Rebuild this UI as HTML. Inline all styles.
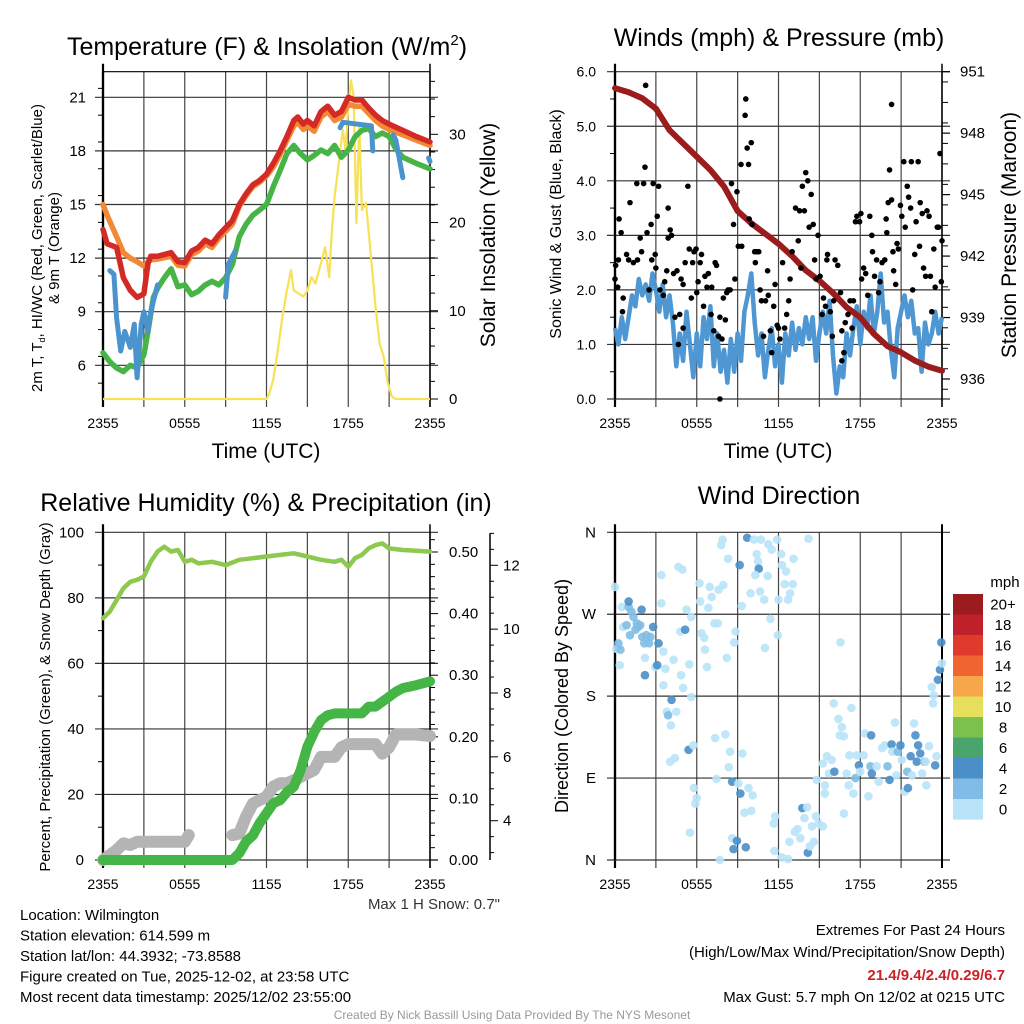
<!DOCTYPE html>
<html><head><meta charset="utf-8"><style>
html,body{margin:0;padding:0;background:#fff;}
svg{display:block;font-family:"Liberation Sans",sans-serif;}
</style></head><body>
<svg id="c" width="1024" height="1024" viewBox="0 0 1024 1024"></svg>
<script>
// ---------------- DATA ----------------
var timeLabels = ["2355","0555","1155","1755","2355"];
// Temperature panel (hours since 2355)
var tempT   = [0,0.3,1,1.5,2,2.5,3,3.3,3.5,4,5,5.5,6,6.5,7,7.5,8,8.5,9,9.5,10,10.5,11,11.5,12,12.5,13,13.5,14,14.3,14.7,15,15.5,16,16.5,17,17.5,18,18.5,19,19.5,20,20.5,21,22,23,24];
var temp2m  = [13.6,12.8,12.6,10.9,10.2,9.8,10.0,11.7,12.1,12.1,12.3,11.8,11.75,12.4,12.6,13.0,12.8,13.3,13.7,14.1,15.0,15.6,16.1,16.35,16.7,17.3,18.0,18.8,19.7,19.9,19.5,19.7,19.4,20.2,20.5,20.0,20.2,21.0,20.85,20.85,20.4,20.0,19.7,19.5,19.15,18.8,18.5];
var temp9m  = [15.0,14.4,13.2,12.3,12.0,11.8,11.55,11.8,11.9,11.95,12.1,11.6,11.55,12.2,12.4,12.8,12.6,13.1,13.5,13.9,14.9,15.5,16.0,16.25,16.6,17.1,17.8,18.6,19.4,19.6,19.2,19.4,19.1,19.9,20.2,19.7,19.9,20.6,20.5,20.5,20.1,19.7,19.4,19.2,18.9,18.6,18.3];
var dewT    = [0,0.5,1,1.5,2,2.5,3,3.3,3.7,4,4.5,5,5.5,6,6.5,7,7.5,8,8.5,9,9.5,10,10.5,11,11.5,12,12.5,13,13.5,14,14.5,15,15.5,16,16.5,17,17.5,18,18.5,19,19.5,20,20.5,21,21.5,22,23,24];
var dewPt   = [6.7,6.2,5.85,5.65,6.0,5.85,6.6,7.9,9.8,10.3,10.9,11.4,10.4,10.5,9.95,10.15,10.5,10.7,10.5,10.9,11.65,13.2,13.9,14.4,14.7,15.0,16.0,16.9,17.85,18.3,17.85,17.5,17.75,18.05,17.85,18.3,17.65,18.05,18.8,19.15,19.25,18.8,19.0,18.8,18.1,17.65,17.3,17.0];
var hiwcT   = [0.5,0.8,1,1.3,1.6,2,2.3,2.5,2.8,3,3.3,3.5,4,4.1,9,9.2,9.7,9.8,17.4,17.6,19.7,19.8,19.9,21.3,21.5,22,22.1,23.9,24];
var hiwc    = [11.3,11.1,8.65,6.8,7.9,7.0,8.3,5.3,8.3,9.0,7.9,9.0,10.5,null,9.8,11.65,12.4,null,19.3,19.6,19.4,18.0,null,18.9,18.6,16.5,null,17.6,17.4];
var solT    = [0,12,12.2,12.5,12.8,13.2,13.5,13.8,14,14.3,14.7,15,15.3,15.6,16,16.3,16.6,16.8,17,17.3,17.6,17.8,18,18.2,18.4,18.6,18.8,19,19.3,19.6,20,20.3,20.6,20.9,21.2,21.5,24];
var solar   = [0,0,0.6,2.2,5.2,9.7,12.3,14.6,12.3,12.0,11.6,12.3,13.8,13.1,15.4,17.2,13.8,19.1,22.9,26.7,30.5,28.2,33.1,36.1,34.2,19.9,31.3,21.4,22.2,17.2,10.5,6.3,4.8,1.8,0.3,0,0];
var tempTicks  = [6,9,12,15,18,21];
var solarTicks = [0,10,20,30];
// Winds panel
var windSpeed = [1.3,1.0,1.5,1.1,1.5,1.9,1.7,2.2,1.9,2.1,1.8,2.3,2.0,
 1.6,2.1,1.5,1.9,1.4,0.6,1.2,0.7,1.6,1.0,0.4,1.2,0.6,
 1.5,1.1,1.7,0.6,1.2,0.5,0.9,0.3,1.1,0.5,1.2,0.7,1.6,
 1.9,2.3,1.4,0.8,1.2,0.4,0.9,1.3,0.6,1.0,0.3,1.2,0.8,
 1.4,0.9,1.3,1.0,1.5,1.1,1.5,0.7,1.2,1.6,1.2,1.8,0.8,
 0.1,0.6,0.4,1.2,0.8,1.3,1.7,1.0,1.6,1.3,1.9,1.2,1.6,
 2.3,1.4,1.6,0.9,0.4,1.3,1.6,1.9,1.5,1.8,1.2,1.3,0.5,
 1.4,1.0,1.2,1.6,1.2,1.5];
var gustT = [0,0.05,0.2,0.3,0.45,0.25,0.6,0.55,0.85,1.1,1.0,1.35,1.6,1.65,1.85,1.95,2.1,2.2,2.25,2.35,2.5,2.65,2.7,2.8,2.95,3.0,3.1,3.2,3.3,3.55,3.65,3.8,3.9,3.9,4.05,4.15,4.3,4.4,4.55,4.65,4.75,4.85,5.0,5.0,5.15,5.35,5.45,5.6,5.7,5.8,5.95,6.0,6.1,6.25,6.35,6.5,6.6,6.75,6.85,7.05,7.1,7.25,7.35,7.45,7.6,7.7,7.85,7.7,7.95,8.1,8.2,8.3,8.45,8.55,8.7,8.8,8.95,9.05,9.25,9.3,9.55,9.6,9.7,9.8,10.0,9.85,10.05,10.25,10.3,10.4,10.55,10.65,10.75,10.9,11.05,11.2,11.25,11.4,11.5,11.65,11.75,11.9,12.0,12.1,12.3,12.45,12.6,12.75,12.85,13.0,13.25,13.45,13.55,13.65,13.75,13.9,14.0,14.15,14.25,14.4,14.55,14.65,14.75,14.9,15.05,15.2,15.3,15.45,15.55,15.6,15.8,15.95,16.05,16.15,16.35,16.55,16.65,16.65,16.8,16.9,17.1,17.25,17.4,17.5,17.65,17.75,17.95,18.05,18.1,18.25,18.4,18.55,18.7,18.85,18.9,19.05,19.2,19.35,19.45,19.6,19.8,19.9,19.95,20.05,20.15,20.3,20.4,20.45,20.6,20.7,20.8,20.95,21.05,21.2,21.3,21.45,21.55,21.7,21.75,21.85,22.0,22.1,22.25,22.35,22.4,22.55,22.65,22.8,22.9,23.05,23.15,23.25,23.4,23.5,23.65,23.75,23.85,23.95,24.0,20.3];
var gust  = [2.2,2.45,2.05,3.3,3.05,2.55,1.85,1.6,2.65,3.6,2.55,2.5,3.95,2.55,2.95,2.7,3.95,4.25,5.75,3.05,2.0,3.2,2.55,3.95,2.65,2.4,3.35,3.9,2.0,1.9,2.15,2.35,3.5,2.95,3.1,3.0,2.3,1.5,2.35,1.0,1.55,2.2,2.1,1.3,2.5,3.9,2.75,1.85,2.5,2.7,2.75,1.95,2.15,2.5,2.65,1.7,2.25,2.05,2.3,1.55,2.05,1.25,2.5,2.45,1.15,1.5,1.1,0.0,1.85,1.45,1.95,2.0,2.0,3.95,3.2,2.2,3.8,2.8,4.3,2.8,5.2,5.5,4.6,4.3,4.7,3.3,3.2,2.7,2.5,2.7,2.7,2.0,1.8,1.15,1.8,2.35,1.9,1.25,0.85,1.7,2.1,1.35,1.3,1.1,2.5,1.3,1.55,1.8,2.2,2.7,3.5,2.9,3.45,2.4,3.9,3.45,4.15,4.0,3.15,3.75,3.2,2.55,2.2,3.0,2.25,1.55,1.85,1.7,2.55,2.65,1.6,1.15,1.8,2.55,2.45,1.95,1.25,0.7,0.85,1.4,1.55,1.8,1.3,1.8,3.25,3.35,3.25,3.4,2.2,2.4,2.3,1.9,3.35,3.0,2.7,2.25,2.55,1.95,2.15,2.5,2.55,3.3,3.05,3.6,4.2,3.65,2.7,2.35,2.1,2.85,2.75,3.55,3.35,4.35,3.15,3.9,3.7,3.5,4.35,2.0,2.65,3.25,4.35,2.8,3.6,3.4,2.4,2.25,3.45,3.35,2.25,1.6,2.75,2.05,3.15,3.15,4.5,2.15,2.9,5.4];
var presT = [0,1,2,3,4,5,6,7,8,9,10,11,12,13,14,15,16,17,18,19,20,21,22,23,24];
var pres  = [950.2,950.0,949.7,949.2,948.15,947.5,946.85,946.2,945.4,944.2,943.6,943.1,942.6,942.0,941.3,940.8,940.2,939.5,939.0,938.2,937.6,937.3,936.9,936.6,936.4];
var windTicks = [0,1,2,3,4,5,6];
var presTicks = [936,939,942,945,948,951];
// RH / precip / snow panel
var rhT = [0,0.5,1,1.5,2,2.5,3,3.5,4,4.5,5,5.5,6,6.5,7,8,9,10,11,12,13,14,15,16,17,17.5,18,18.5,19,19.5,20,20.5,21,22,23,24];
var rh  = [73.8,75.8,79.3,82.9,84.9,85.5,86.5,91,94.1,95.6,94.1,94.6,91,91.6,90.5,91,90,91.6,92.1,92.6,93.1,93.6,92.6,91.6,91,91.6,89.5,92.1,93.1,95.1,96.1,96.6,95.1,94.6,94.4,94.1];
var precT = [0,9.5,10,10.5,11,11.5,12,12.5,13,13.5,14,14.5,15,15.5,16,16.5,17,18,19,19.5,20,20.5,21,21.5,22,23,24];
var prec  = [0,0,0.011,0.03,0.04,0.06,0.076,0.092,0.097,0.11,0.119,0.146,0.184,0.208,0.227,0.235,0.238,0.238,0.238,0.249,0.249,0.257,0.265,0.273,0.279,0.284,0.29];
var snowT = [0,1,1.5,2,2.5,3,6,6.3,6.5,9.5,10,10.5,11,11.5,12,12.5,13,13.5,14,15,15.5,16,17,17.5,18,19,20,20.5,21,21.5,22,23,24];
var snow  = [2.77,3.08,3.29,3.24,3.34,3.34,3.34,3.55,null,3.55,3.6,4.13,4.54,4.65,4.75,5.07,5.17,5.17,5.27,5.48,5.59,6.0,6.0,6.3,6.4,6.4,6.4,6.1,6.3,6.7,6.7,6.7,6.65];
var rhTicks   = [0,20,40,60,80,100];
var precTicks = [0.00,0.10,0.20,0.30,0.40,0.50];
var snowTicks = [4,6,8,10,12];
// Wind direction scatter
var dirT = [0,0.1,0.25,0.4,0.5,0.35,0.6,0.85,1.0,1.0,1.1,1.2,1.35,1.5,1.6,1.7,1.85,1.95,2.0,2.15,2.2,2.2,2.3,2.5,2.6,2.8,2.95,3.1,3.2,3.4,3.4,3.55,3.7,4.3,3.55,3.8,3.9,4.15,4.5,4.1,4.65,4.95,4.8,5.15,5.25,4.85,5.0,5.45,5.6,5.6,6.2,6.25,6.35,6.55,6.6,6.75,6.85,6.95,7.1,7.3,7.55,7.6,7.8,7.9,7.95,8.3,8.2,8.85,8.75,9.3,9.15,9.7,10.2,10.7,10.4,10.5,10.55,10.3,9.95,10.65,10.95,11.0,11.2,11.25,11.4,11.5,11.9,12.0,11.95,12.2,12.25,12.45,12.55,12.7,12.85,13.05,13.1,14.2,16.55,
 4.05,4.4,5.4,5.75,5.8,6.0,5.9,5.5,7.35,8.1,7.45,8.35,8.45,8.6,9.05,9.2,9.35,9.8,10.1,9.5,10.0,8.6,8.95,8.7,9.6,7.7,11.75,11.65,11.7,12.25,12.7,12.8,13.2,13.4,13.6,13.75,13.9,14.1,14.15,14.3,14.6,14.45,14.75,14.95,15.25,14.8,15.4,15.4,15.25,15.55,15.7,15.9,16.1,16.05,16.4,16.65,16.5,16.8,16.8,17.0,17.2,17.35,17.15,17.5,17.65,17.75,17.9,18.0,18.25,18.35,18.6,18.75,18.8,18.85,19.2,19.35,19.6,19.8,20.0,20.15,20.3,20.35,20.55,20.65,20.75,20.95,21.05,21.25,21.45,21.5,21.7,21.8,21.95,22.05,22.15,22.25,22.4,22.55,22.7,22.8,22.85,23.05,23.25,23.35,23.4,23.5,23.6,23.7,23.85,23.95,24.0];
var dirDeg = [300,232,238,231,278,214,256,258,278,284,247,273,267,253,260,256,258,275,245,238,203,222,247,238,245,256,212,214,238,313,282,229,210,220,192,163,159,176,163,148,322,319,251,253,275,203,189,215,267,179,304,284,249,244,231,212,277,300,289,260,260,297,346,352,302,331,222,251,239,279,324,354,352,352,336,328,320,313,293,295,286,233,312,347,265,341,352,286,247,336,324,303,317,286,293,303,331,353,239,
 108,112,121,126,79,68,62,30,134,138,89,102,119,86,84,73,117,79,71,52,54,24,21,12,14,0,48,40,10,3,1,20,31,34,24,57,46,58,8,15,20,37,48,40,37,88,73,82,106,114,95,110,97,172,155,146,137,136,51,95,115,167,82,73,90,115,104,97,115,139,70,103,137,95,103,86,123,126,103,88,127,119,151,93,119,126,110,75,97,79,114,93,150,137,108,126,117,95,108,108,82,125,190,172,181,104,114,198,209,239,216];
var dirSpd = [1,1,3,3,1,1,1,3,3,4,3,3,3,3,3,3,3,4,3,3,4,1,3,3,3,4,1,4,4,1,1,1,1,1,1,1,3,4,1,1,1,1,1,4,1,1,1,1,1,1,1,1,1,1,1,1,1,1,1,1,1,1,1,1,1,1,1,1,1,1,4,4,1,1,1,1,4,1,1,1,1,1,1,1,1,1,1,1,1,1,1,1,1,1,1,1,1,1,1,
 1,1,4,1,1,1,1,1,1,1,1,1,1,4,1,4,1,1,1,1,1,1,4,4,4,1,1,1,1,1,1,1,1,1,1,4,1,1,4,1,1,1,1,1,1,1,1,1,1,1,1,1,4,1,1,1,1,1,1,1,1,1,1,1,3,1,4,1,1,1,1,3,4,4,1,1,1,1,3,4,4,1,1,1,3,4,1,1,3,4,4,1,1,4,4,4,4,1,3,1,1,1,1,1,1,4,1,4,4,4,1];
var dirTicks = ["N","E","S","W","N"];
var cbLabels = ["20+","18","16","14","12","10","8","6","4","2","0"];
var cbColors = ["#9b1b1e","#c0202a","#df3a2c","#ef6430","#f6a74a","#e6df5c","#7cc14c","#4aa56c","#4a8fc8","#80bce6","#b9e3f8"];

// ---------------- DRAWING ----------------
var svg = document.getElementById('c');
var NS = 'http://www.w3.org/2000/svg';
function mk(tag, attrs, parent){var e=document.createElementNS(NS,tag);for(var k in attrs)e.setAttribute(k,attrs[k]);(parent||svg).appendChild(e);return e;}
function txt(s, x, y, size, anchor, parent, extra){var e=mk('text',{x:x,y:y,'font-size':size,'text-anchor':anchor||'middle',fill:'#000'},parent);if(extra)for(var k in extra)e.setAttribute(k,extra[k]);e.textContent=s;return e;}
function lin(a,b){return function(v){return a[1]+(v-a[0])*(b[1]-a[1])/(b[0]-a[0]);};}
function pathD(xs, ys, fx, fy){var d='',pen=false;for(var i=0;i<xs.length;i++){if(ys[i]===null||ys[i]===undefined){pen=false;continue;}d+=(pen?'L':'M')+fx(xs[i]).toFixed(1)+' '+fy(ys[i]).toFixed(1);pen=true;}return d;}

function panelFrame(g, ox, top, bot, hTicks, fy, showTopLine){
  var L=ox+103,R=ox+430;
  var fx=lin([0,L],[24,R]);
  for(var k=0;k<=8;k++){var x=fx(k*3);mk('line',{x1:x,y1:top,x2:x,y2:bot+8,stroke:(k==0||k==8)?'#000':'#444','stroke-width':(k==0)?2.2:1.2},g);}
  hTicks.forEach(function(v){var y=fy(v);mk('line',{x1:L-8,y1:y,x2:R+8,y2:y,stroke:'#333','stroke-width':1.2},g);});
  if(showTopLine) mk('line',{x1:L,y1:top,x2:R,y2:top,stroke:'#000','stroke-width':1.2},g);
  mk('line',{x1:L,y1:top-8,x2:L,y2:bot,stroke:'#000','stroke-width':2.2},g);
  for(var i=0;i<timeLabels.length;i++){txt(timeLabels[i],fx(i*6),bot+29,14,'middle',g);}
  return fx;
}

// ===== Panel 1: Temperature =====
(function(){
  var g=mk('g',{});
  
  
  var top=71.7,bot=399;
  var fy=lin([21,97.3],[6,365.3]);
  var fs=lin([0,399],[30,134.3]);
  var fx=panelFrame(g,0,top,bot,tempTicks,fy,true);
  for(var v=5;v<=22;v+=1.5){mk('line',{x1:98,y1:fy(v),x2:103,y2:fy(v),stroke:'#000','stroke-width':1},g);}
  tempTicks.forEach(function(v){txt(String(v),86,fy(v)+5,15,'end',g);});
  mk('line',{x1:430,y1:top-8,x2:430,y2:bot+8,stroke:'#000','stroke-width':1.5},g);
  for(var s=0;s<=36;s+=2){var y=fs(s);mk('line',{x1:430,y1:y,x2:(s%10==0)?438:435,y2:y,stroke:'#000','stroke-width':1},g);}
  solarTicks.forEach(function(v){txt(String(v),449,fs(v)+5,15,'start',g);});
  var s1=mk('path',{d:pathD(solT,solar,fx,fs),fill:'none',stroke:'#f7e154','stroke-width':2.2,'stroke-linejoin':'round'},g);
  
  var s2=mk('path',{d:pathD(tempT,temp9m,fx,fy),fill:'none',stroke:'#f28a35','stroke-width':5.5,'stroke-linejoin':'round','stroke-linecap':'round'},g);
  
  var s3=mk('path',{d:pathD(tempT,temp2m,fx,fy),fill:'none',stroke:'#d42a26','stroke-width':5.5,'stroke-linejoin':'round','stroke-linecap':'round'},g);
  
  var s4=mk('path',{d:pathD(dewT,dewPt,fx,fy),fill:'none',stroke:'#47b447','stroke-width':5.5,'stroke-linejoin':'round','stroke-linecap':'round'},g);
  
  var s5=mk('path',{d:pathD(hiwcT,hiwc,fx,fy),fill:'none',stroke:'#4a93cc','stroke-width':5,'stroke-linejoin':'round','stroke-linecap':'round'},g);
  
  var t=txt('',267,55,25,'middle',g);
  t.innerHTML='Temperature (F) &amp; Insolation (W/m<tspan dy="-10" font-size="15">2</tspan><tspan dy="10">)</tspan>';
  txt('Time (UTC)',266,458,21,'middle',g);
  var yl=txt('',0,0,15,'middle',g,{transform:'translate(42,248) rotate(-90)'});
  
  yl.innerHTML='2m T, T<tspan font-size="9" dy="3">d</tspan><tspan dy="-3">, HI/WC (Red, Green, Scarlet/Blue)</tspan>';
  txt('& 9m T (Orange)',0,0,15,'middle',g,{transform:'translate(59,248) rotate(-90)'});
  txt('Solar Insolation (Yellow)',0,0,21,'middle',g,{transform:'translate(495,235) rotate(-90)'});
})();

// ===== Panel 2: Winds & Pressure =====
(function(){
  var g=mk('g',{});
  
  
  var ox=512,top=71.7,bot=399;
  var fy=lin([0,399],[6,71.7]);
  var fp=lin([951,71.7],[936,379]);
  var fx=panelFrame(g,ox,top,bot,windTicks,fy,false);
  for(var v=0.5;v<6;v+=1){mk('line',{x1:ox+98,y1:fy(v),x2:ox+103,y2:fy(v),stroke:'#000','stroke-width':1},g);}
  windTicks.forEach(function(v){txt(v.toFixed(1),ox+84,fy(v)+5,14,'end',g);});
  mk('line',{x1:ox+430,y1:top-8,x2:ox+430,y2:bot+8,stroke:'#000','stroke-width':1.5},g);
  for(var p=935.5;p<=951;p+=1){var y=fp(p);if(y>bot)continue;mk('line',{x1:ox+430,y1:y,x2:ox+436,y2:y,stroke:'#000','stroke-width':1},g);}
  presTicks.forEach(function(v){var y=fp(v);mk('line',{x1:ox+430,y1:y,x2:ox+438,y2:y,stroke:'#000','stroke-width':1.2},g);txt(String(v),ox+448,y+5,15,'start',g);});
  var w=mk('path',{d:pathD(windSpeed.map(function(_,i){return i*0.25;}),windSpeed,fx,fy),fill:'none',stroke:'#4f97d2','stroke-width':4.5,'stroke-linejoin':'round'},g);
  
  var pr=mk('path',{d:pathD(presT,pres,fx,fp),fill:'none',stroke:'#9b1c1c','stroke-width':6,'stroke-linejoin':'round','stroke-linecap':'round'},g);
  
  for(var i=0;i<gustT.length;i++){
    var c=mk('circle',{cx:fx(gustT[i]),cy:fy(gust[i]),r:2.8,fill:'#000'},g);
    
    
  }
  txt('Winds (mph) & Pressure (mb)',779,46,25,'middle',g);
  txt('Time (UTC)',778,458,21,'middle',g);
  txt('Sonic Wind & Gust (Blue, Black)',0,0,16,'middle',g,{transform:'translate(561,224) rotate(-90)'});
  txt('Station Pressure (Maroon)',0,0,21,'middle',g,{transform:'translate(1016,235) rotate(-90)'});
})();

// ===== Panel 3: RH & Precip =====
(function(){
  var g=mk('g',{});
  
  
  var top=532.3,bot=860;
  var fy=lin([0,860],[100,532.3]);
  var fpr=lin([0,860],[0.5,552]);
  var fsn=lin([4,820.7],[12,565.3]);
  var fx=panelFrame(g,0,top,bot,rhTicks,fy,false);
  for(var v=10;v<100;v+=20){mk('line',{x1:98,y1:fy(v),x2:103,y2:fy(v),stroke:'#000','stroke-width':1},g);}
  rhTicks.forEach(function(v){txt(String(v),84,fy(v)+5,15,'end',g);});
  mk('line',{x1:430,y1:top-8,x2:430,y2:bot+8,stroke:'#000','stroke-width':1.5},g);
  for(var k=0;k<=26;k++){var y=fpr(k*0.02);if(y<top-6)continue;mk('line',{x1:430,y1:y,x2:(k%5==0)?438:435,y2:y,stroke:'#000','stroke-width':1},g);}
  precTicks.forEach(function(v){txt(v.toFixed(2),449,fpr(v)+5,15,'start',g);});
  mk('line',{x1:490,y1:top+1,x2:490,y2:bot,stroke:'#000','stroke-width':1.5},g);
  for(var s=3;s<=13;s+=0.5){var y=fsn(s);if(y<top||y>bot)continue;mk('line',{x1:490,y1:y,x2:(s%2==0)?498:494,y2:y,stroke:'#000','stroke-width':1},g);}
  snowTicks.forEach(function(v){txt(String(v),503,fsn(v)+5,15,'start',g);});
  var sn=mk('path',{d:pathD(snowT,snow,fx,fsn),fill:'none',stroke:'#b4b4b4','stroke-width':12,'stroke-linejoin':'round','stroke-linecap':'round'},g);
  
  var pc=mk('path',{d:pathD(precT,prec,fx,fpr),fill:'none',stroke:'#45b545','stroke-width':10,'stroke-linejoin':'round','stroke-linecap':'round'},g);
  
  var r=mk('path',{d:pathD(rhT,rh,fx,fy),fill:'none',stroke:'#8dc94f','stroke-width':4.5,'stroke-linejoin':'round','stroke-linecap':'round'},g);
  
  txt('Relative Humidity (%) & Precipitation (in)',266,511,25,'middle',g);
  txt('Percent, Precipitation (Green), & Snow Depth (Gray)',0,0,15,'middle',g,{transform:'translate(50,697) rotate(-90)'});
  txt('Max 1 H Snow: 0.7"',500,909,15,'end',g,{fill:'#333'});
})();

// ===== Panel 4: Wind Direction =====
(function(){
  var g=mk('g',{});
  
  
  var ox=512,top=532.3,bot=860;
  var fy=lin([0,860],[360,532.3]);
  var fx=panelFrame(g,ox,top,bot,[0,90,180,270,360],fy,false);
  mk('line',{x1:ox+430,y1:top-8,x2:ox+430,y2:bot+8,stroke:'#000','stroke-width':2},g);
  for(var i=0;i<dirTicks.length;i++){txt(dirTicks[i],ox+84,fy(i*90)+5,15,'end',g);}
  function col(s){var b=Math.min(10,Math.floor(s/2));return cbColors[10-b];}
  for(var j=0;j<dirT.length;j++){
    var c=mk('circle',{cx:fx(dirT[j]),cy:fy(dirDeg[j]),r:4.3,fill:col(dirSpd[j]),'fill-opacity':0.9},g);
    
    
  }
  for(var k=0;k<cbColors.length;k++){
    var y=594+k*20.5;
    var rct=mk('rect',{x:953,y:y,width:30,height:20.6,fill:cbColors[k]},g);
    
    txt(cbLabels[k],1003,y+15.5,15,'middle',g);
  }
  txt('mph',1005,587,15,'middle',g);
  txt('Wind Direction',779,504,25,'middle',g);
  txt('Direction (Colored By Speed)',0,0,18,'middle',g,{transform:'translate(568,696) rotate(-90)'});
})();

// ===== Footer =====
(function(){
  var g=mk('g',{});
  
  
  var L=["Location: Wilmington","Station elevation: 614.599 m","Station lat/lon: 44.3932; -73.8588","Figure created on Tue, 2025-12-02, at 23:58 UTC","Most recent data timestamp: 2025/12/02 23:55:00"];
  for(var i=0;i<L.length;i++){txt(L[i],20,920+i*20.5,15,'start',g);}
  txt('Extremes For Past 24 Hours',1005,935,15,'end',g);
  txt('(High/Low/Max Wind/Precipitation/Snow Depth)',1005,957,15,'end',g);
  txt('21.4/9.4/2.4/0.29/6.7',1005,980,15,'end',g,{fill:'#cc2127','font-weight':'bold'});
  txt('Max Gust: 5.7 mph On 12/02 at 0215 UTC',1005,1002,15,'end',g);
  txt('Created By Nick Bassill Using Data Provided By The NYS Mesonet',512,1019,12,'middle',g,{fill:'#999'});
})();
</script>
</body></html>
